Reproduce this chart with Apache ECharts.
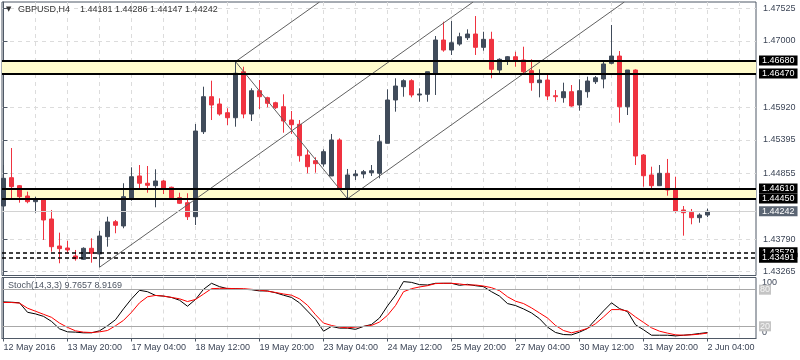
<!DOCTYPE html>
<html><head><meta charset="utf-8">
<script src="https://cdn.jsdelivr.net/npm/echarts@6/dist/echarts.min.js"></script>
<style>html,body{margin:0;padding:0;background:#fff}#c{width:800px;height:360px}</style>
</head><body><div id="c"></div>
<script>
// ---- data ----
const tickIndex = [0,8,16,24,32,40,48,56,64,72,80,88];
const tickLabels = ['12 May 2016','13 May 20:00','17 May 04:00','18 May 12:00','19 May 20:00','23 May 04:00','24 May 12:00','25 May 20:00','27 May 04:00','30 May 12:00','31 May 20:00','2 Jun 04:00'];
const priceTicks = [1.43265,1.43790,1.44855,1.45395,1.45920,1.47000,1.47525];

const opens = [1.44327,1.44785,1.44656,1.44489,1.44397,1.44436,1.44117,1.43680,1.43648,1.43519,
1.43465,1.43643,1.43551,1.43831,1.44073,1.44004,1.44452,1.44813,1.44695,1.44656,
1.44732,1.44630,1.44462,1.44381,1.44154,1.45529,1.46095,1.45977,1.45836,1.45755,
1.46499,1.45815,1.46192,1.46079,1.45998,1.45933,1.45718,1.45649,1.45152,1.45060,
1.45007,1.44813,1.45395,1.44614,1.44817,1.44845,1.44866,1.44856,1.45341,1.46042,
1.46257,1.46354,1.46123,1.46134,1.46474,1.47012,1.46850,1.46947,1.47049,1.47109,
1.46894,1.47023,1.46527,1.46689,1.46742,1.46689,1.46516,1.46322,1.46365,1.46111,
1.46079,1.46176,1.45961,1.46176,1.46338,1.46381,1.46635,1.46753,1.45933,1.46527,
1.45152,1.44829,1.44656,1.44856,1.44602,1.44263,1.44226,1.44138,1.44181];
const highs = [1.44990,1.45265,1.44667,1.44559,1.44478,1.44452,1.44263,1.43896,1.43766,1.43616,
1.43659,1.43805,1.43928,1.44154,1.44101,1.44695,1.44953,1.44990,1.44974,1.44921,
1.44748,1.44640,1.44542,1.44533,1.45654,1.46257,1.46354,1.46069,1.45908,1.46661,
1.46580,1.46231,1.46365,1.46095,1.46014,1.46134,1.45864,1.45718,1.45233,1.45115,
1.45244,1.45492,1.45422,1.44926,1.44910,1.44910,1.44990,1.45476,1.46215,1.46393,
1.46377,1.46377,1.46231,1.46499,1.47077,1.47308,1.47319,1.47130,1.47185,1.47400,
1.47146,1.47146,1.46716,1.46753,1.46823,1.46904,1.46700,1.46538,1.46474,1.46203,
1.46322,1.46284,1.46377,1.46419,1.46430,1.46661,1.47255,1.46834,1.46527,1.46538,
1.45168,1.44963,1.44990,1.45088,1.44801,1.44327,1.44279,1.44209,1.44286];
const lows = [1.44263,1.44436,1.44381,1.44371,1.44219,1.43778,1.43588,1.43401,1.43572,1.43443,
1.43454,1.43410,1.43336,1.43669,1.43886,1.43967,1.44413,1.44597,1.44542,1.44306,
1.44521,1.44436,1.44360,1.44101,1.44020,1.45492,1.45718,1.45788,1.45637,1.45610,
1.45746,1.45702,1.45896,1.45924,1.45896,1.45513,1.45492,1.45044,1.44856,1.44866,
1.44963,1.44813,1.44586,1.44445,1.44748,1.44775,1.44813,1.44775,1.45341,1.45853,
1.46095,1.46085,1.46014,1.46014,1.46123,1.46823,1.46770,1.46920,1.47012,1.46770,
1.46839,1.46393,1.46462,1.46608,1.46580,1.46446,1.46192,1.46085,1.46042,1.46014,
1.45998,1.45933,1.45869,1.46079,1.46301,1.46231,1.46619,1.45675,1.45799,1.44990,
1.44640,1.44586,1.44656,1.44494,1.44219,1.43847,1.44031,1.44057,1.44147];
const closes = [1.44775,1.44640,1.44478,1.44397,1.44424,1.44101,1.43669,1.43637,1.43616,1.43475,
1.43643,1.43562,1.43842,1.44069,1.44015,1.44478,1.44801,1.44695,1.44662,1.44732,
1.44614,1.44445,1.44371,1.44154,1.45540,1.46095,1.45961,1.45815,1.45755,1.46474,
1.45815,1.46192,1.46095,1.45988,1.45917,1.45702,1.45642,1.45141,1.44963,1.45012,
1.45206,1.45395,1.44614,1.44829,1.44845,1.44882,1.44898,1.45367,1.46042,1.46268,
1.46354,1.46123,1.46139,1.46499,1.47012,1.46850,1.46968,1.47065,1.47109,1.46894,
1.47023,1.46538,1.46700,1.46742,1.46689,1.46499,1.46322,1.46365,1.46106,1.46095,
1.46176,1.45945,1.46192,1.46349,1.46402,1.46624,1.46753,1.45933,1.46527,1.45136,
1.44817,1.44656,1.44856,1.44586,1.44247,1.44219,1.44138,1.44182,1.44242];

const stochK = [60,59.5,58.5,43,40.3,36.3,28,15.9,10.9,10.4,
9.3,9.3,12.6,20.9,30.8,48.6,65,79,76.7,70.6,
69.5,67.3,62.8,52.9,64,80.6,90.5,85,81.7,81.7,
80.6,80,78,78,75,71,67.3,58.5,45,31.4,
12,19.8,17,17,15,19.8,23,33.6,53.4,71,
93.3,92,88.3,87.7,90.5,90.5,90.5,87.2,88.8,86.6,
85,76.7,69.5,57.3,54,48.5,41.9,32.5,18.7,9.9,
6.5,6,10.4,16.5,30.9,45.2,58.5,49,44,22.5,
14.3,5.4,5.4,5.4,4.3,5.4,6.5,8.2,9.7657];
const stochD = [59,59,58,49.7,44.7,39.7,34.7,25.3,18.2,12.6,
10.4,9.8,10.9,13.1,20.9,29.7,43,58.5,68.4,70.6,
69.5,67.3,65.1,60.6,64,72.8,81.7,82.2,82.2,81.7,
81.7,80.6,79.5,77.5,75.5,73,71,65,54.5,39,
25.3,21.4,18.7,17.5,18.7,19.8,21.4,27,38,54,
76.7,81.7,84.5,86.6,90,90.5,90.5,89.4,87.7,87.7,
86,83.3,78.4,68.4,61.2,57.3,50.2,41.9,33.6,21.4,
13.1,9.3,12.6,16.5,24.2,35.3,47.4,47.4,45.2,35.3,
26.4,17.5,12,8.8,6,5.4,6,7.1,8.9169];
const stochLevels = [80, 20];

const bands = [[1.46470, 1.46680], [1.44450, 1.44610]];
const levelLines = [1.46680, 1.46470, 1.44610, 1.44450];
const dashedLines = [1.43579, 1.43491];
const bidPrice = 1.44242;
// trend lines: [barIndex, price] endpoints
const trendLines = [
  [[12, 1.43336], [58.7, 1.47627]],
  [[29, 1.46663], [39.5, 1.47627]],
  [[29, 1.46663], [43, 1.44445]],
  [[43, 1.44445], [77.6, 1.47627]]
];

// ---- styles ----
const FONT = 'Liberation Sans';
const FRAME = '#4f5966';
const TXT = '#3d4657';
const GRIDC = '#dcdcdc';
const BULL = '#404b5a';
const BEAR = '#ef3340';
const LEVELC = '#a8a8a8';
const xMin = -0.1875, xMax = 94.0625;

const n = opens.length;
const candleData = opens.map((o, i) => [i, o, closes[i], lows[i], highs[i]]);
const every4 = []; for (let v = 0; v <= 92; v += 4) every4.push(v);

const chart = echarts.init(document.getElementById('c'), null, {renderer: 'canvas'});
const lblBase = {fontFamily: FONT, fontSize: 9};

const option = {
  animation: false,
  backgroundColor: '#ffffff',
  title: [
    {text: '\u25BC', left: 6, top: 6, padding: 0, textStyle: {fontSize: 7, color: '#333', fontWeight: 'normal', fontFamily: 'DejaVu Sans'}},
    {text: 'GBPUSD,H4    ' + [opens[n-1], highs[n-1], lows[n-1], closes[n-1]].map(v => v.toFixed(5)).join(' '),
     left: 18, top: 5, padding: 0, textStyle: {fontSize: 9, color: '#333', fontWeight: 'normal', fontFamily: FONT}},
    {text: 'Stoch(14,3,3) ' + stochK[n-1].toFixed(4) + ' ' + stochD[n-1].toFixed(4),
     left: 8, top: 281, padding: 0, textStyle: {fontSize: 9, color: '#4d5562', fontWeight: 'normal', fontFamily: FONT}}
  ],
  grid: [
    {left: 2, top: 2, width: 754, height: 273.5, show: true, borderColor: FRAME, borderWidth: 1, outerBoundsMode: 'none', containLabel: false},
    {left: 2, top: 277.5, width: 754, height: 61, show: true, borderColor: FRAME, borderWidth: 1, outerBoundsMode: 'none', containLabel: false}
  ],
  xAxis: [
    {type: 'value', gridIndex: 0, min: xMin, max: xMax,
     axisLine: {show: false}, axisTick: {show: false, customValues: every4}, axisLabel: {show: false},
     splitLine: {show: true, lineStyle: {color: GRIDC, type: [4, 4], width: 1}}},
    {type: 'value', gridIndex: 1, min: xMin, max: xMax,
     axisLine: {show: false}, axisTick: {show: false, customValues: every4}, axisLabel: {show: false},
     splitLine: {show: true, lineStyle: {color: GRIDC, type: [4, 4], width: 1}}},
    {type: 'value', gridIndex: 1, min: xMin, max: xMax, position: 'bottom',
     axisLine: {show: true, lineStyle: {color: FRAME, width: 1}},
     axisTick: {show: true, customValues: tickIndex, length: 3, lineStyle: {color: FRAME}},
     axisLabel: {show: true, customValues: tickIndex, align: 'left', margin: 5, color: TXT, ...lblBase,
       formatter: v => tickLabels[tickIndex.indexOf(Math.round(v))] || ''},
     splitLine: {show: false}}
  ],
  yAxis: [
    {type: 'value', gridIndex: 0, position: 'right', min: 1.43203, max: 1.47627,
     axisLine: {show: true, lineStyle: {color: FRAME, width: 1}},
     axisTick: {show: true, customValues: priceTicks, length: 4, lineStyle: {color: FRAME}},
     axisLabel: {show: true, customValues: priceTicks, margin: 7, color: TXT, ...lblBase, formatter: v => v.toFixed(5)},
     splitLine: {show: true, lineStyle: {color: GRIDC, type: [4, 4], width: 1}}},
    {type: 'value', gridIndex: 1, position: 'right', min: 0, max: 100,
     axisLine: {show: true, lineStyle: {color: FRAME, width: 1}},
     axisTick: {show: false, customValues: stochLevels},
     axisLabel: {show: true, customValues: [0, 100], margin: 6, color: TXT, ...lblBase,
       formatter: v => v === 100 ? '{t|100}' : '{b|0}',
       rich: {t: {padding: [11, 0, 0, 0], color: TXT, ...lblBase}, b: {padding: [0, 0, 12, 0], color: TXT, ...lblBase}}},
     splitLine: {show: true, lineStyle: {color: LEVELC, width: 1, type: 'solid'}}}
  ],
  series: [
    {type: 'candlestick', name: 'GBPUSD', xAxisIndex: 0, yAxisIndex: 0, data: candleData, barWidth: 4, z: 2,
     itemStyle: {color: BULL, color0: BEAR, borderColor: BULL, borderColor0: BEAR, borderWidth: 1},
     markArea: {silent: true, precision: 5, itemStyle: {color: '#fffbcc', opacity: 1}, label: {show: false},
       data: bands.map(b => [{yAxis: b[0]}, {yAxis: b[1]}])},
     markLine: {silent: true, precision: 5, symbol: ['none', 'none'], animation: false,
       label: {show: true, position: 'end', distance: 3, color: '#ffffff', backgroundColor: '#000000',
         padding: [1, 3, 0, 3], lineHeight: 9, ...lblBase, formatter: p => Number(p.value).toFixed(5)},
       data: [
         {yAxis: bidPrice, lineStyle: {color: '#d2d2d2', width: 1, type: 'solid'}, label: {backgroundColor: '#5b6573'}},
         ...levelLines.map(v => ({yAxis: v, lineStyle: {color: '#000000', width: 2, type: 'solid'}})),
         ...dashedLines.map(v => ({yAxis: v, lineStyle: {color: '#000000', width: 1.5, type: [4, 3]}}))
       ]}
    },
    ...trendLines.map(seg => ({type: 'line', xAxisIndex: 0, yAxisIndex: 0, data: seg, symbol: 'none', showSymbol: false,
      silent: true, z: 4, clip: true, lineStyle: {color: '#606060', width: 1}})),
    {type: 'line', name: 'K', xAxisIndex: 1, yAxisIndex: 1, data: stochK.map((v, i) => [i, v]), symbol: 'none', showSymbol: false,
     silent: true, z: 3, lineStyle: {color: '#000000', width: 1},
     markLine: {silent: true, precision: 0, symbol: ['none', 'none'], animation: false,
       lineStyle: {color: LEVELC, width: 1, type: 'solid'},
       label: {show: true, position: 'end', distance: 3, color: '#f6f6f6', backgroundColor: '#c4c4c4',
         padding: [1, 1, 0, 1], lineHeight: 9, ...lblBase, formatter: p => String(p.value)},
       data: stochLevels.map(v => ({yAxis: v}))}},
    {type: 'line', name: 'D', xAxisIndex: 1, yAxisIndex: 1, data: stochD.map((v, i) => [i, v]), symbol: 'none', showSymbol: false,
     silent: true, z: 3, lineStyle: {color: '#ff0000', width: 1}}
  ]
};
chart.setOption(option);
</script>
</body></html>
